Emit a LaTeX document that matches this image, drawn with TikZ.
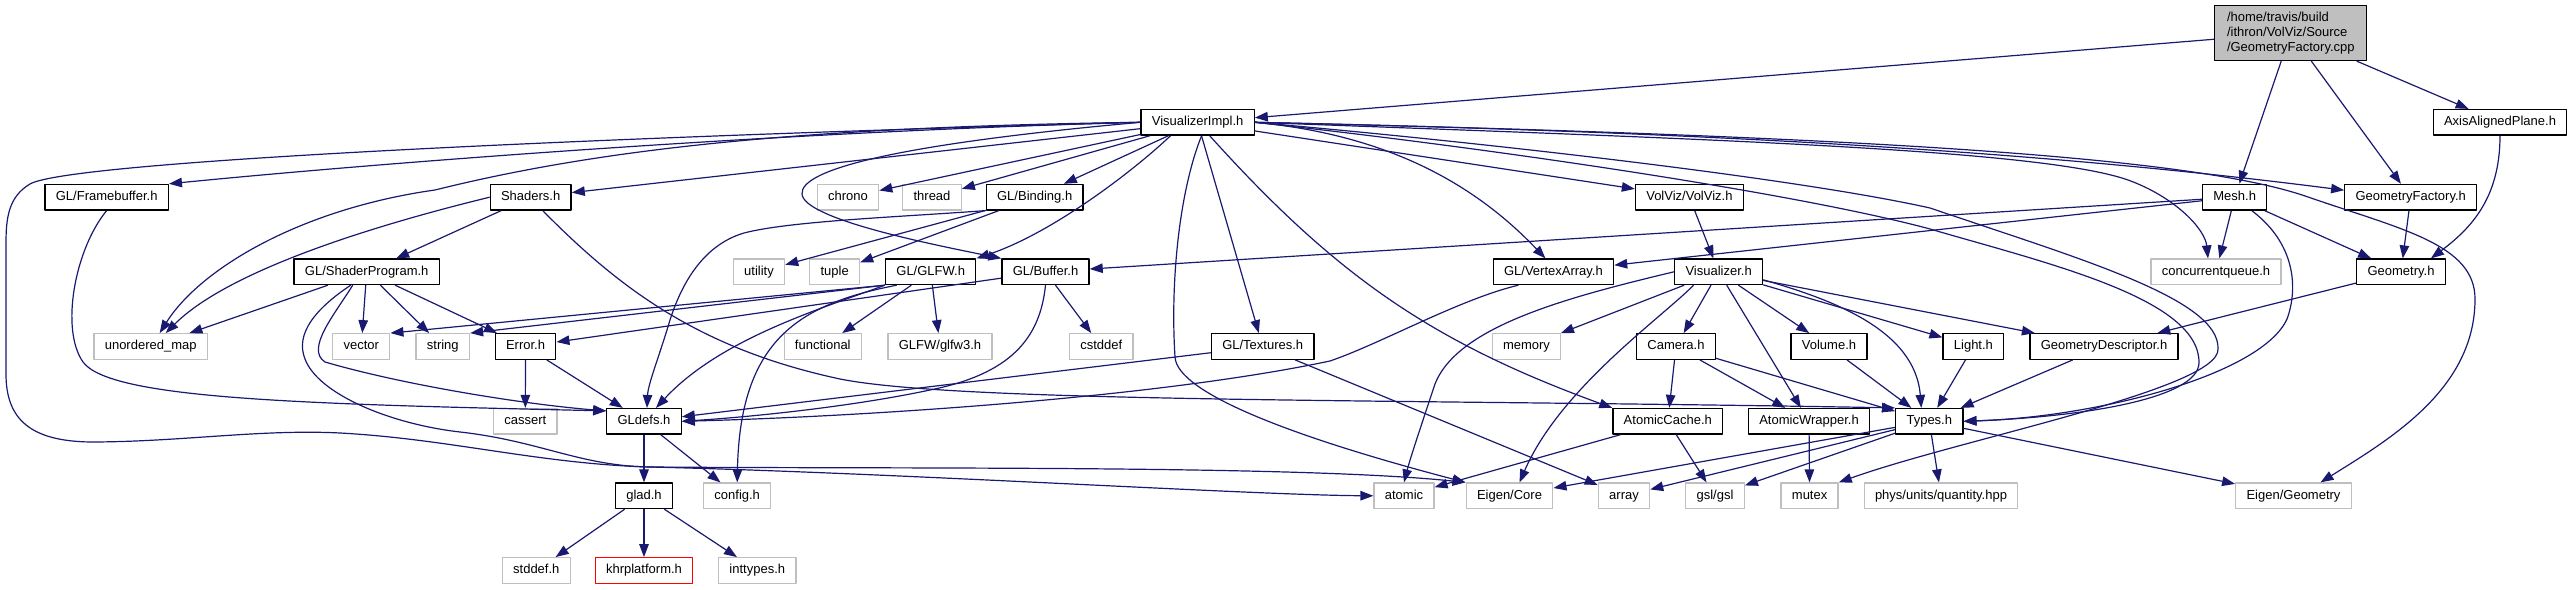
\documentclass[tikz,border=0pt]{standalone}
\usepackage{fontspec}
\setmainfont{Liberation Sans}
\usetikzlibrary{arrows.meta}
\definecolor{midblue}{HTML}{191970}
\definecolor{grey75}{HTML}{BFBFBF}
\begin{document}
\begin{tikzpicture}[x=1pt,y=1pt,>={Triangle[length=13pt,width=9.5pt]},line join=round,
  font=\fontsize{13}{15}\selectfont,
  box/.style={line width=1.3pt,inner xsep=10.8pt,inner ysep=0pt,minimum height=25.5pt,text height=9.4pt,text depth=2.8pt},
  hdr/.style={box,draw=black},
  sys/.style={box,draw=grey75},
  dep/.style={->,draw=midblue,line width=1.2pt}]
\useasboundingbox (0,0) rectangle (2574,589);
% files, rank by rank
\node[draw=black,fill=grey75,line width=1.3pt,align=left,inner xsep=9pt,minimum width=152pt,minimum height=55pt] (root) at (2290.8,556) {/home/travis/build\\/ithron/VolViz/Source\\/GeometryFactory.cpp};
\node[hdr] (visimpl) at (1197.6,466.7) {VisualizerImpl.h};
\node[hdr] (axisplane) at (2500,466.7) {AxisAlignedPlane.h};
\node[hdr] (framebuf) at (106.7,391.8) {GL/Framebuffer.h};
\node[hdr] (shaders) at (530.7,391.8) {Shaders.h};
\node[sys] (chrono) at (848,391.8) {chrono};
\node[sys] (thread) at (932,391.8) {thread};
\node[hdr] (binding) at (1034.7,391.8) {GL/Binding.h};
\node[hdr] (volviz) at (1689.4,391.8) {VolViz/VolViz.h};
\node[hdr] (mesh) at (2234.7,391.8) {Mesh.h};
\node[hdr] (geofactory) at (2410.7,391.8) {GeometryFactory.h};
\node[hdr] (shaderprog) at (366.7,317.2) {GL/ShaderProgram.h};
\node[sys] (utility) at (759,317.2) {utility};
\node[sys] (tuple) at (834.7,317.2) {tuple};
\node[hdr] (glfw) at (930.7,317.2) {GL/GLFW.h};
\node[hdr] (buffer) at (1045.5,317.2) {GL/Buffer.h};
\node[hdr] (vertexarray) at (1553.4,317.2) {GL/VertexArray.h};
\node[hdr] (visualizer) at (1718.6,317.2) {Visualizer.h};
\node[sys] (cqueue) at (2216,317.2) {concurrentqueue.h};
\node[hdr] (geometry) at (2401,317.2) {Geometry.h};
\node[sys] (unorderedmap) at (150.7,242.5) {unordered\_map};
\node[sys] (vector) at (361.3,242.5) {vector};
\node[sys] (string) at (442.8,242.5) {string};
\node[hdr] (error) at (525.5,242.5) {Error.h};
\node[sys] (functional) at (822.8,242.5) {functional};
\node[sys] (glfw3) at (940,242.5) {GLFW/glfw3.h};
\node[sys] (cstddef) at (1101.2,242.5) {cstddef};
\node[hdr] (textures) at (1262.7,242.5) {GL/Textures.h};
\node[sys] (memory) at (1526.5,242.5) {memory};
\node[hdr] (camera) at (1676,242.5) {Camera.h};
\node[hdr] (volume) at (1829,242.5) {Volume.h};
\node[hdr] (light) at (1973.4,242.5) {Light.h};
\node[hdr] (geodesc) at (2104,242.5) {GeometryDescriptor.h};
\node[sys] (cassert) at (525.3,167.7) {cassert};
\node[hdr] (gldefs) at (644,167.7) {GLdefs.h};
\node[hdr] (atomiccache) at (1667.8,167.7) {AtomicCache.h};
\node[hdr] (atomicwrap) at (1809,167.7) {AtomicWrapper.h};
\node[hdr] (types) at (1929.3,167.7) {Types.h};
\node[hdr] (glad) at (644,93.2) {glad.h};
\node[sys] (config) at (737.2,93.2) {config.h};
\node[sys] (atomic) at (1404,93.2) {atomic};
\node[sys] (eigencore) at (1509.5,93.2) {Eigen/Core};
\node[sys] (array) at (1624,93.2) {array};
\node[sys] (gsl) at (1715,93.2) {gsl/gsl};
\node[sys] (mutex) at (1809.6,93.2) {mutex};
\node[sys] (quantity) at (1941,93.2) {phys/units/quantity.hpp};
\node[sys] (eigengeom) at (2293.5,93.2) {Eigen/Geometry};
\node[sys] (stddef) at (536.3,18.5) {stddef.h};
\node[box,draw=red] (khr) at (644,18.5) {khrplatform.h};
\node[sys] (inttypes) at (757.3,18.5) {inttypes.h};
% includes
\draw[dep] (root) -- (visimpl);
\draw[dep] (root) -- (mesh);
\draw[dep] (root) -- (geofactory);
\draw[dep] (root) -- (axisplane);
\draw[dep] (axisplane.south) .. controls (2500,390) and (2470,360) .. ([xshift=-15pt]geometry.north east);
\draw[dep] (geofactory) -- (geometry);
\draw[dep] (mesh) -- (geometry);
\draw[dep] (mesh) -- (cqueue);
\draw[dep] (mesh) -- (buffer);
\draw[dep] (mesh) -- (vertexarray);
\draw[dep] ([xshift=17pt]mesh.south) .. controls (2296,345) and (2298,300) .. (2287,270) .. controls (2262,215) and (2100,172) .. (types.east);
\draw[dep] (geometry) -- (geodesc);
\draw[dep] (visimpl.west) .. controls (800,458) and (400,428) .. (framebuf.north east);
\draw[dep] (visimpl.west) .. controls (600,452) and (70,428) .. (30,405) .. controls (8,392) and (6,370) .. (6,345) -- (6,215) .. controls (6,170) and (30,148) .. (90,147) .. controls (180,147) and (260,160) .. (340,156) .. controls (450,150) and (540,125) .. (650,122) .. controls (900,116) and (1250,94) .. (atomic.west);
\draw[dep] (visimpl.west) .. controls (800,462) and (600,440) .. (435,399) .. controls (300,380) and (200,320) .. ([xshift=9pt]unorderedmap.north);
\draw[dep] (visimpl) -- (shaders);
\draw[dep] (visimpl) -- (chrono);
\draw[dep] (visimpl) -- (thread);
\draw[dep] (visimpl) -- (binding);
\draw[dep] ([xshift=-27pt]visimpl.south) .. controls (1130,415) and (1050,355) .. (glfw.north east);
\draw[dep] (visimpl.west) .. controls (900,445) and (800,420) .. (802,395) .. controls (804,370) and (930,345) .. (buffer.north west);
\draw[dep] (visimpl) -- (textures);
\draw[dep] ([xshift=4pt]visimpl.south) .. controls (1180,400) and (1170,310) .. (1175,232) .. controls (1177,195) and (1300,150) .. (eigencore.north west);
\draw[dep] (visimpl) to[out=-48,in=160] (atomiccache.north west);
\draw[dep] (visimpl.east) .. controls (1380,455) and (1470,410) .. ([xshift=-8pt]vertexarray.north);
\draw[dep] (visimpl) -- (volviz);
\draw[dep] (visimpl.east) .. controls (1700,450) and (2040,440) .. (2128,409) .. controls (2175,392) and (2205,360) .. ([xshift=-8pt]cqueue.north);
\draw[dep] (visimpl.east) .. controls (1800,455) and (2100,430) .. ([yshift=7pt]geofactory.west);
\draw[dep] (visimpl.east) .. controls (1900,452) and (2200,430) .. (2308,392) .. controls (2400,360) and (2475,345) .. (2475,290) .. controls (2475,200) and (2390,150) .. ([xshift=27pt]eigengeom.north);
\draw[dep] (visimpl.east) .. controls (1500,440) and (1800,395) .. (1930,360) .. controls (2050,325) and (2200,290) .. (2199,226) .. controls (2198,190) and (2080,172) .. (types.east);
\draw[dep] (visimpl.east) .. controls (1500,445) and (1800,410) .. (1930,381) .. controls (2080,330) and (2220,290) .. (2218,240) .. controls (2220,200) and (1960,150) .. (mutex.north east);
\draw[dep] (framebuf.south) .. controls (75,340) and (60,260) .. (83,227) .. controls (110,190) and (300,185) .. ([yshift=-3pt]gldefs.north west);
\draw[dep] (shaders) -- (shaderprog);
\draw[dep] (shaders.west) .. controls (380,365) and (230,320) .. ([xshift=15pt]unorderedmap.north);
\draw[dep] ([xshift=12pt]shaders.south) .. controls (620,300) and (700,240) .. (840,210) .. controls (960,186) and (1400,190) .. (types.north west);
\draw[dep] (shaderprog) -- (unorderedmap);
\draw[dep] (shaderprog) -- (vector);
\draw[dep] (shaderprog) -- (string);
\draw[dep] (shaderprog) -- (error);
\draw[dep] ([xshift=-14pt]shaderprog.south) .. controls (335,275) and (305,240) .. (325,227) .. controls (400,205) and (520,185) .. ([yshift=-3pt]gldefs.north west);
\draw[dep] ([xshift=-16pt]shaderprog.south) .. controls (315,280) and (295,255) .. (305,230) .. controls (318,195) and (390,165) .. (460,157) .. controls (540,148) and (580,123) .. (650,122) .. controls (900,120) and (1300,124) .. (eigencore.north west);
\draw[dep] (error) -- (cassert);
\draw[dep] (error) -- (gldefs);
\draw[dep] (binding) -- (utility);
\draw[dep] (binding) -- (tuple);
\draw[dep] (binding.south west) .. controls (900,372) and (790,368) .. (744,356) .. controls (700,343) and (680,300) .. (670,269) .. controls (660,235) and (648,205) .. ([xshift=3pt]gldefs.north);
\draw[dep] (glfw.south west) -- (vector.north east);
\draw[dep] (glfw.south west) -- (string.north east);
\draw[dep] (glfw.south west) .. controls (820,280) and (720,250) .. ([xshift=12pt]gldefs.north);
\draw[dep] ([xshift=-34pt]glfw.south) .. controls (800,285) and (740,250) .. (config.north);
\draw[dep] (glfw) -- (functional);
\draw[dep] (glfw) -- (glfw3);
\draw[dep] (buffer) -- (error);
\draw[dep] (buffer.south) .. controls (1040,250) and (1010,215) .. (930,199) .. controls (850,182) and (750,172) .. (gldefs.east);
\draw[dep] (buffer) -- (cstddef);
\draw[dep] ([xshift=-35pt]vertexarray.south) .. controls (1460,290) and (1380,245) .. (1330,228) .. controls (1150,190) and (850,172) .. (gldefs.east);
\draw[dep] (textures) -- (gldefs);
\draw[dep] (textures) -- (array);
\draw[dep] (volviz) -- (visualizer);
\draw[dep] (visualizer) -- (memory);
\draw[dep] (visualizer.west) .. controls (1560,290) and (1450,260) .. (1433,199) .. controls (1420,160) and (1410,130) .. (atomic.north);
\draw[dep] ([xshift=-25pt]visualizer.south) .. controls (1660,270) and (1560,200) .. ([xshift=10pt]eigencore.north);
\draw[dep] (visualizer) -- (camera);
\draw[dep] (visualizer) -- (atomicwrap);
\draw[dep] (visualizer) -- (volume);
\draw[dep] ([yshift=-8pt]visualizer.east) .. controls (1830,290) and (1915,260) .. ([xshift=-8pt]types.north);
\draw[dep] (visualizer) -- (light);
\draw[dep] (visualizer) -- (geodesc);
\draw[dep] (camera) -- (atomiccache);
\draw[dep] (camera) -- (atomicwrap);
\draw[dep] (camera) -- (types);
\draw[dep] (volume) -- (types);
\draw[dep] (light) -- (types);
\draw[dep] (geodesc) -- (types);
\draw[dep] (atomiccache) -- (atomic);
\draw[dep] (atomiccache) -- (gsl);
\draw[dep] (atomicwrap) -- (mutex);
\draw[dep] (types) -- (eigencore);
\draw[dep] (types) -- (array);
\draw[dep] (types) -- (gsl);
\draw[dep] (types) -- (quantity);
\draw[dep] (types) -- (eigengeom);
\draw[dep] (gldefs) -- (glad);
\draw[dep] (gldefs) -- (config);
\draw[dep] (glad) -- (stddef);
\draw[dep] (glad) -- (khr);
\draw[dep] (glad) -- (inttypes);
\end{tikzpicture}
\end{document}
